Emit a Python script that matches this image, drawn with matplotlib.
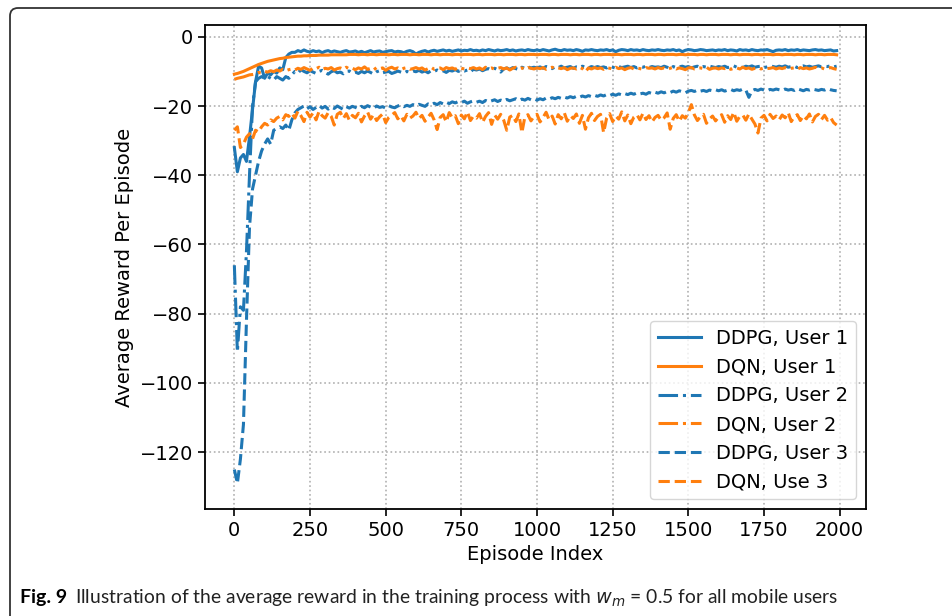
import matplotlib.pyplot as plt
import matplotlib.patches as mpatches
import matplotlib.transforms as mtransforms
import numpy as np

# episode index (one point every 10 episodes)
episodes = np.arange(0, 2000, 10)

ddpg_user1 = [
    -32, -39, -35, -34, -36, -29, -21, -13, -8.5, -9, -12, -10.5, -11, -10, -10.5, -9, -9.5, -6, -5, -4.5,
    -4.5, -4.0, -4.3, -3.8, -4.2, -4.4, -4.0, -4.3, -4.1, -4.6, -4.2, -4.0, -4.4, -4.1, -4.3, -4.5, -4.2, -4.0, -4.4, -4.3,
    -4.1, -4.5, -4.2, -4.6, -4.3, -4.0, -4.4, -4.2, -4.1, -4.5, -4.3, -4.1, -4.0, -4.4, -4.2, -4.3, -4.6, -4.2, -4.0, -4.3,
    -5.0, -4.5, -4.2, -4.0, -4.4, -4.1, -3.9, -4.2, -4.0, -3.8, -4.1, -3.9, -4.2, -4.0, -3.8, -4.1, -3.9, -4.0, -3.7, -4.0,
    -3.9, -4.1, -3.8, -4.0, -3.7, -3.9, -4.1, -3.8, -4.0, -3.9, -3.7, -4.0, -3.8, -4.1, -3.9, -3.8, -4.0, -3.7, -3.9, -4.0,
    -3.8, -4.0, -3.7, -3.9, -4.1, -3.8, -3.6, -3.9, -4.0, -3.7, -3.9, -3.8, -4.0, -3.7, -3.9, -4.2, -3.8, -3.9, -3.7, -3.9,
    -4.0, -3.8, -3.9, -3.7, -4.0, -3.8, -4.3, -3.9, -3.7, -3.8, -4.0, -3.7, -3.9, -3.8, -4.0, -3.7, -3.9, -4.0, -3.8, -3.9,
    -3.7, -3.9, -4.0, -3.8, -3.9, -3.7, -4.0, -3.8, -4.3, -3.9, -3.7, -3.8, -4.0, -3.9, -3.7, -3.8, -4.0, -3.9, -3.8, -4.0,
    -3.8, -3.9, -3.7, -4.0, -3.8, -3.9, -4.1, -3.7, -3.9, -3.8, -4.0, -3.7, -3.9, -4.0, -3.8, -3.9, -3.7, -4.0, -4.3, -3.9,
    -3.8, -3.9, -3.7, -4.0, -3.8, -3.9, -3.7, -4.0, -3.8, -3.9, -4.0, -3.8, -3.7, -3.9, -3.8, -4.0, -3.9, -3.8, -4.1, -4.0,
]

dqn_user1 = [
    -10.8, -10.6, -10.3, -10.0, -9.6, -9.2, -8.8, -8.4, -8.0, -7.7, -7.4, -7.1, -6.9, -6.7, -6.5, -6.3, -6.2, -6.0, -5.9, -5.8,
    -5.7, -5.6, -5.6, -5.5, -5.5, -5.4, -5.4, -5.4, -5.3, -5.3, -5.3, -5.3, -5.2, -5.2, -5.2, -5.2, -5.2, -5.2, -5.1, -5.1,
    -5.1, -5.2, -5.1, -5.1, -5.2, -5.1, -5.1, -5.2, -5.1, -5.1, -5.1, -5.2, -5.1, -5.1, -5.2, -5.1, -5.1, -5.1, -5.2, -5.1,
    -5.1, -5.2, -5.1, -5.1, -5.1, -5.2, -5.1, -5.1, -5.2, -5.1, -5.1, -5.1, -5.2, -5.1, -5.1, -5.2, -5.1, -5.1, -5.1, -5.2,
    -5.1, -5.1, -5.2, -5.1, -5.1, -5.1, -5.2, -5.1, -5.1, -5.2, -5.1, -5.1, -5.1, -5.2, -5.1, -5.1, -5.2, -5.1, -5.1, -5.1,
    -5.2, -5.1, -5.1, -5.1, -5.2, -5.1, -5.1, -5.2, -5.1, -5.1, -5.1, -5.2, -5.1, -5.1, -5.2, -5.1, -5.1, -5.1, -5.2, -5.1,
    -5.1, -5.2, -5.1, -5.1, -5.1, -5.2, -5.1, -5.1, -5.2, -5.1, -5.1, -5.1, -5.2, -5.1, -5.1, -5.2, -5.1, -5.1, -5.1, -5.2,
    -5.1, -5.1, -5.2, -5.1, -5.1, -5.1, -5.2, -5.1, -5.1, -5.2, -5.1, -5.1, -5.1, -5.2, -5.1, -5.1, -5.2, -5.1, -5.1, -5.1,
    -5.2, -5.1, -5.1, -5.1, -5.2, -5.1, -5.1, -5.2, -5.1, -5.1, -5.1, -5.2, -5.1, -5.1, -5.2, -5.1, -5.1, -5.1, -5.2, -5.1,
    -5.1, -5.2, -5.1, -5.1, -5.1, -5.2, -5.1, -5.1, -5.2, -5.1, -5.1, -5.1, -5.2, -5.1, -5.1, -5.2, -5.1, -5.1, -5.1, -5.2,
]

ddpg_user2 = [
    -66, -91, -78, -79, -62, -40, -20, -13, -12, -11.5, -12, -11.5, -12, -12.5, -11.5, -12, -12.5, -11.5, -12, -11,
    -10, -10.5, -9.5, -10, -10.4, -9.8, -10.2, -10.6, -10, -9.7, -10.3, -10.8, -10.1, -9.8, -10.4, -10.2, -10.7, -10, -9.9, -10.5,
    -10.2, -10.6, -10, -10.4, -9.9, -10.3, -10.8, -10.1, -9.8, -10.4, -10.2, -10, -10.6, -10.3, -9.9, -10.2, -10.5, -10, -10.3, -9.9,
    -10.1, -9.7, -10.2, -9.9, -10.4, -9.8, -10, -9.6, -10.1, -9.8, -10.3, -9.7, -9.9, -9.5, -10, -9.7, -9.9, -9.6, -10.1, -9.4,
    -9.6, -9.3, -9.8, -9.4, -9.2, -9.6, -9.1, -9.5, -10.2, -9.3, -9.0, -9.4, -8.9, -9.2, -9.5, -8.8, -9.1, -8.7, -9.0, -8.8,
    -9.0, -8.7, -9.1, -8.6, -8.9, -9.2, -8.7, -8.9, -8.5, -9.0, -8.8, -8.6, -9.1, -8.7, -8.9, -8.5, -8.8, -9.0, -8.6, -8.9,
    -8.6, -8.9, -8.7, -9.0, -8.5, -8.8, -9.1, -8.6, -8.9, -8.7, -8.5, -8.9, -8.6, -9.0, -8.7, -8.8, -8.5, -8.9, -8.6, -8.8,
    -8.7, -8.9, -8.5, -8.8, -9.3, -8.6, -8.9, -8.7, -8.5, -8.8, -8.6, -9.0, -8.7, -8.5, -8.9, -8.6, -8.8, -8.5, -8.7, -8.9,
    -8.6, -8.8, -8.5, -8.9, -8.7, -8.4, -8.8, -8.6, -8.9, -8.5, -8.7, -8.4, -8.8, -8.6, -8.5, -8.9, -8.7, -8.4, -8.6, -8.8,
    -8.5, -8.7, -8.4, -8.8, -8.6, -8.5, -8.9, -8.6, -8.4, -8.7, -8.5, -8.8, -8.6, -8.4, -8.7, -8.5, -8.6, -8.4, -8.7, -8.5,
]

dqn_user2 = [
    -12.3, -12.0, -11.8, -11.6, -11.3, -11.0, -10.9, -10.7, -10.3, -10.5, -10.0, -10.2, -9.8, -10.1, -9.6, -9.9, -9.4, -9.8, -9.5, -9.3,
    -9.6, -9.1, -9.4, -8.9, -9.3, -9.7, -9.0, -9.2, -8.8, -9.5, -9.1, -9.3, -8.9, -9.6, -9.2, -9.0, -9.4, -8.8, -9.3, -9.1,
    -9.5, -9.0, -9.3, -8.7, -9.4, -9.1, -9.6, -8.9, -9.2, -9.0, -9.7, -9.1, -8.8, -9.3, -9.0, -9.5, -9.1, -8.9, -9.4, -9.2,
    -8.9, -9.3, -9.0, -9.6, -9.2, -8.8, -9.4, -9.1, -9.0, -9.5, -8.9, -9.2, -9.0, -9.4, -8.8, -9.1, -9.3, -9.0, -9.2, -8.9,
    -9.3, -9.0, -9.5, -8.8, -9.2, -9.0, -9.4, -9.1, -8.9, -9.3, -9.0, -9.6, -9.1, -8.8, -9.2, -9.0, -9.4, -8.9, -9.1, -9.3,
    -9.0, -9.2, -8.9, -9.4, -9.1, -8.8, -9.3, -9.0, -9.2, -8.9, -9.5, -9.1, -9.0, -9.3, -8.8, -9.2, -10.1, -9.0, -9.3, -8.9,
    -9.2, -9.0, -9.4, -8.9, -9.1, -9.3, -8.8, -9.2, -9.0, -9.5, -9.1, -8.9, -9.3, -9.0, -9.2, -9.4, -8.9, -9.1, -9.0, -9.3,
    -8.9, -9.2, -9.0, -9.4, -9.1, -8.8, -9.3, -9.0, -9.2, -9.5, -9.0, -8.9, -9.3, -9.1, -9.0, -9.2, -8.8, -9.4, -9.1, -9.0,
    -9.3, -9.0, -9.2, -8.9, -9.4, -9.1, -9.0, -9.3, -8.8, -9.2, -9.0, -9.4, -9.1, -8.9, -9.3, -9.0, -9.2, -9.1, -8.9, -9.3,
    -9.0, -9.2, -8.9, -9.3, -9.1, -9.0, -9.4, -8.9, -9.2, -9.0, -9.3, -9.1, -8.8, -9.2, -9.0, -9.3, -9.1, -8.9, -9.2, -9.4,
]

ddpg_user3 = [
    -125, -129, -122, -112, -82, -55, -44, -40, -36, -33, -31, -29.5, -31, -27, -26.5, -26, -26.5, -25.5, -27, -24,
    -22, -21, -20.5, -20, -20.8, -20.2, -21, -20.4, -19.8, -20.6, -20.1, -20.9, -20.3, -20.7, -20, -20.5, -21, -20.2, -20.6, -20.1,
    -20.4, -20.8, -20.1, -20.5, -19.9, -20.3, -20.7, -20.0, -20.4, -20.2, -20.6, -19.9, -20.3, -20.5, -20.0, -19.7, -20.2, -19.8, -20.1, -19.6,
    -19.9, -19.5, -19.8, -20.1, -19.4, -19.7, -19.2, -19.6, -19.0, -19.4, -18.9, -19.3, -18.8, -19.1, -18.7, -19.0, -18.6, -19.2, -18.8, -18.5,
    -18.9, -18.6, -19.0, -18.4, -18.8, -18.5, -18.2, -18.7, -18.3, -18.6, -18.1, -18.5, -18.2, -17.9, -18.4, -18.0, -18.3, -17.8, -18.2, -17.9,
    -18.3, -17.9, -18.2, -17.7, -18.0, -17.6, -17.9, -17.5, -17.8, -17.4, -17.7, -17.3, -17.6, -17.2, -17.5, -17.1, -17.4, -17.0, -17.3, -16.9,
    -17.2, -16.8, -17.1, -16.7, -17.0, -16.6, -16.9, -16.5, -16.8, -16.4, -16.7, -16.3, -16.6, -16.2, -16.5, -16.3, -16.6, -16.1, -16.4, -16.0,
    -16.3, -15.9, -16.2, -15.8, -16.1, -15.7, -16.0, -15.6, -15.9, -16.2, -15.7, -15.5, -15.8, -15.4, -15.7, -15.5, -15.8, -15.4, -15.6, -15.3,
    -15.6, -15.3, -15.7, -15.4, -15.2, -15.6, -15.3, -15.5, -15.1, -15.4, -17.5, -15.6, -15.2, -15.5, -15.1, -15.4, -15.6, -15.2, -15.4, -15.1,
    -15.3, -15.5, -15.1, -15.4, -15.2, -15.5, -15.0, -15.3, -15.6, -15.2, -15.4, -15.1, -15.3, -15.5, -15.2, -15.4, -15.0, -15.3, -15.5, -15.6,
]

dqn_user3 = [
    -27, -26, -32, -31, -29, -28, -29.5, -27, -27.5, -26, -25, -25.5, -24, -24.5, -23.5, -23, -24, -22.5, -23, -22,
    -23.5, -21.5, -22.8, -24.5, -21.8, -23.2, -22, -24, -21.5, -22.8, -23.5, -21.9, -23, -25.5, -22.4, -21.8, -23.6, -22.2, -24.1, -22.7,
    -23.4, -22.1, -24.6, -22.9, -21.7, -23.8, -22.5, -24.2, -23.1, -22.3, -24.8, -23.3, -22.6, -21.9, -23.7, -22.8, -24.3, -22.4, -23.5, -22.9,
    -21.8, -23.6, -22.7, -24.4, -23.2, -22.1, -24.0, -26.8, -23.3, -22.5, -24.6, -21.9, -23.4, -22.8, -25.1, -22.6, -23.7, -21.7, -24.2, -22.9,
    -23.5, -22.2, -24.7, -23.0, -21.9, -25.3, -22.6, -23.8, -22.4, -24.1, -27.0, -23.2, -22.7, -24.5, -22.3, -27.7, -23.1, -22.5, -24.3, -23.0,
    -22.4, -24.6, -23.3, -21.8, -24.0, -22.9, -25.2, -22.5, -23.7, -21.9, -24.4, -22.8, -23.6, -22.3, -25.0, -22.7, -26.7, -23.4, -22.1, -24.2,
    -23.0, -22.4, -27.7, -23.5, -22.2, -24.5, -22.9, -23.8, -21.7, -24.3, -22.6, -25.1, -23.2, -22.5, -24.0, -22.1, -23.9, -22.8, -24.6, -23.3,
    -22.7, -24.1, -23.4, -22.0, -26.7, -23.6, -22.5, -24.4, -22.8, -23.5, -21.9, -19.6, -22.6, -24.2, -23.1, -22.4, -25.0, -23.7, -22.9, -24.3,
    -23.2, -22.5, -24.7, -22.8, -23.9, -21.8, -24.4, -23.0, -22.6, -24.1, -22.3, -23.8, -25.2, -27.8, -23.5, -22.7, -24.3, -22.4, -23.6, -22.9,
    -24.0, -22.6, -23.4, -21.9, -24.5, -23.1, -22.5, -24.2, -22.8, -23.7, -22.3, -24.6, -23.0, -22.4, -23.9, -22.7, -24.1, -23.3, -24.8, -25.5,
]

series = [
    ("DDPG, User 1", ddpg_user1, "#1f77b4", "-"),
    ("DQN, User 1", dqn_user1, "#ff7f0e", "-"),
    ("DDPG, User 2", ddpg_user2, "#1f77b4", "-."),
    ("DQN, User 2", dqn_user2, "#ff7f0e", "-."),
    ("DDPG, User 3", ddpg_user3, "#1f77b4", "--"),
    ("DQN, Use 3", dqn_user3, "#ff7f0e", "--"),
]

W, H = 953, 616
fig = plt.figure(figsize=(W / 100, H / 100), dpi=100)

# rounded frame around the figure (open on right / bottom edges)
frame = mpatches.FancyBboxPatch((10, -40), 1000, H - 8 + 40,
                                boxstyle="round,pad=0,rounding_size=8",
                                transform=mtransforms.IdentityTransform(),
                                fill=False, edgecolor="#333333", linewidth=1.3)
fig.add_artist(frame)

ax = fig.add_axes([205 / W, 1 - 509 / H, (866 - 205) / W, (509 - 25) / H])

for label, vals, col, ls in series:
    ax.plot(episodes, vals, color=col, linestyle=ls, linewidth=2.2, label=label)

ax.set_xlim(-97, 2087)
ax.set_ylim(-136.4, 3.4)
ax.set_xticks(np.arange(0, 2001, 250))
ax.set_yticks(np.arange(-120, 1, 20))
ax.grid(True, linestyle=":", color="#b0b0b0", linewidth=1.2)
ax.tick_params(labelsize=14, width=1.2, length=5)
for s in ax.spines.values():
    s.set_linewidth(1.3)

ax.set_xlabel("Episode Index", fontsize=14)
ax.set_ylabel("Average Reward Per Episode", fontsize=14)
ax.legend(loc="lower right", fontsize=14, handlelength=2.2)

# caption
fig.text(20 / W, 1 - 598 / H, "Fig. 9", fontsize=14, fontweight="bold",
         family="Lato", va="center")
fig.text(75 / W, 1 - 598 / H,
         r"Illustration of the average reward in the training process with $w_m$ = 0.5 for all mobile users",
         fontsize=13.9, family="Lato", va="center", color="#222222")

fig.savefig("out.png", dpi=100)
